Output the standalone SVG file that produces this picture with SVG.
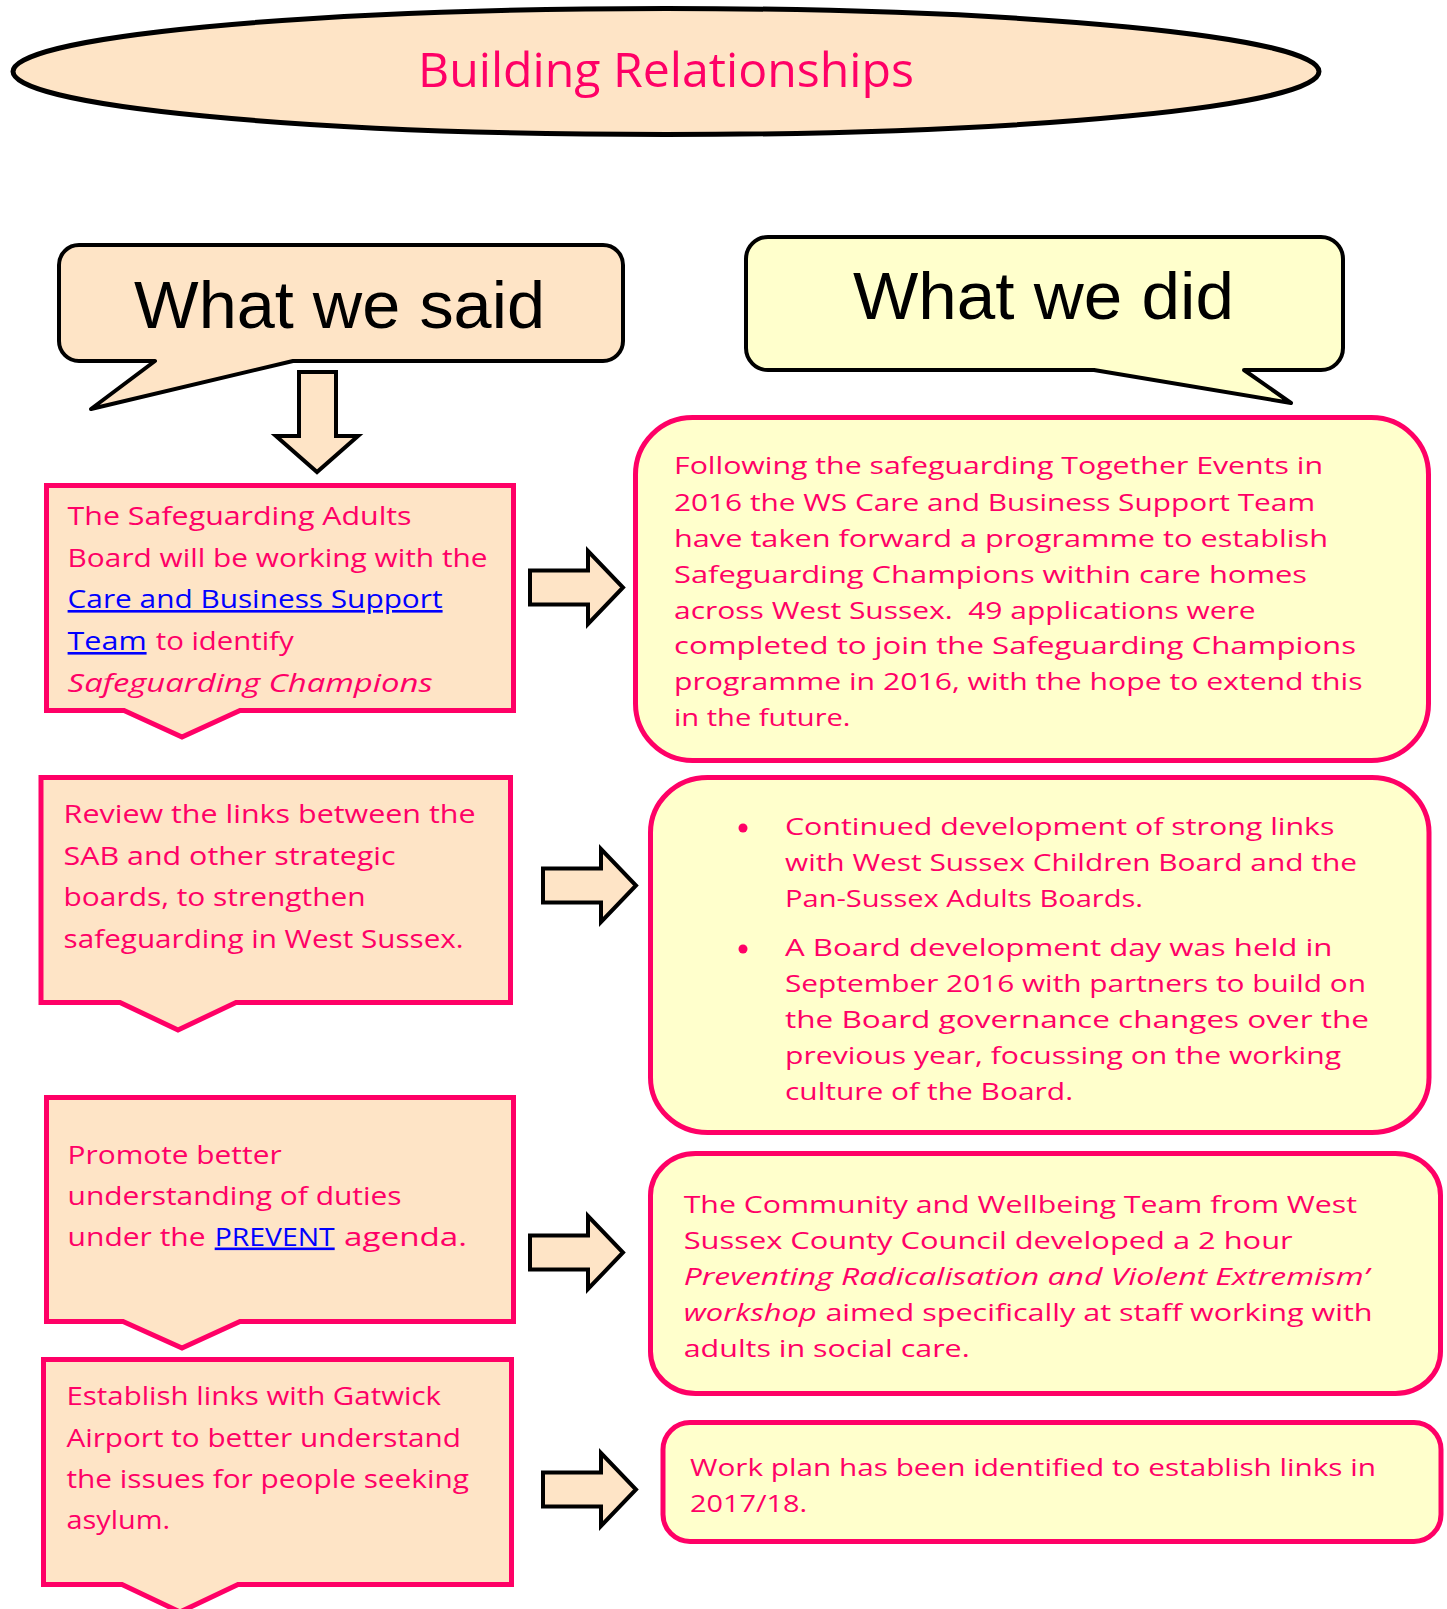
<svg xmlns="http://www.w3.org/2000/svg" width="1447" height="1609" viewBox="0 0 1447 1609">
<style>
.t{font-family:"Open Sans","Liberation Sans",sans-serif;fill:#FF0066}
.l{font-size:26px}
.r{font-size:24px}
.lk{fill:#0000FF;text-decoration:underline}
.it{font-style:italic}
.hd{font-family:"Liberation Sans",Arial,sans-serif;font-size:66px;fill:#000}
.box{fill:#FEE4C6;stroke:#FF0066;stroke-width:5;stroke-linejoin:miter}
.ybox{fill:#FFFFCC;stroke:#FF0066;stroke-width:5}
.call{stroke:#000;stroke-width:4;stroke-linejoin:round}
.arrow{fill:#FEE4C6;stroke:#000;stroke-width:4;stroke-linejoin:miter}
</style>
<defs>
<path id="rarrow" d="M2,21.5 H60 V2 L95,38.5 L60,75 V55.5 H2 Z"/>
</defs>
<rect width="1447" height="1609" fill="#fff"/>

<g id="title">
<ellipse cx="666" cy="71.5" rx="653" ry="63" fill="#FEE4C6" stroke="#000" stroke-width="5"/>
<text class="t" x="418" y="87" font-size="48" textLength="496" lengthAdjust="spacingAndGlyphs">Building Relationships</text>
</g>

<g id="what-we-said">
<path class="call" fill="#FEE4C6" d="M79,245 H603 A20,20 0 0 1 623,265 V341 A20,20 0 0 1 603,361 H293 L91,409 L155,361 H79 A20,20 0 0 1 59,341 V265 A20,20 0 0 1 79,245 Z"/>
<text class="hd" x="134" y="328" textLength="411" lengthAdjust="spacingAndGlyphs">What we said</text>
</g>

<g id="what-we-did">
<path class="call" fill="#FFFFCC" d="M768,237 H1321 A22,22 0 0 1 1343,259 V348 A22,22 0 0 1 1321,370 H1244 L1291,403 L1094,370 H768 A22,22 0 0 1 746,348 V259 A22,22 0 0 1 768,237 Z"/>
<text class="hd" x="853" y="319" textLength="381" lengthAdjust="spacingAndGlyphs">What we did</text>
</g>

<g id="said-1">
<path class="box" d="M46.5,485.5 H513.5 V710.5 H240 L182,737 L124,710.5 H46.5 Z"/>
<text class="t l" x="67.6" y="525" textLength="344" lengthAdjust="spacingAndGlyphs">The Safeguarding Adults</text>
<text class="t l" x="67.6" y="567" textLength="420" lengthAdjust="spacingAndGlyphs">Board will be working with the</text>
<text class="t l lk" x="67.6" y="608" textLength="375" lengthAdjust="spacingAndGlyphs">Care and Business Support</text>
<text class="t l lk" x="67.6" y="650" textLength="79" lengthAdjust="spacingAndGlyphs">Team</text>
<text class="t l" x="155.7" y="650" textLength="138" lengthAdjust="spacingAndGlyphs">to identify</text>
<text class="t l it" x="67.6" y="692" textLength="365" lengthAdjust="spacingAndGlyphs">Safeguarding Champions</text>
</g>

<g id="said-2">
<path class="box" d="M41,777.5 H510.5 V1002.5 H236 L178,1030 L120,1002.5 H41 Z"/>
<text class="t l" x="63.6" y="823" textLength="412" lengthAdjust="spacingAndGlyphs">Review the links between the</text>
<text class="t l" x="63.6" y="864.5" textLength="332" lengthAdjust="spacingAndGlyphs">SAB and other strategic</text>
<text class="t l" x="63.6" y="906" textLength="302" lengthAdjust="spacingAndGlyphs">boards, to strengthen</text>
<text class="t l" x="63.6" y="947.5" textLength="400" lengthAdjust="spacingAndGlyphs">safeguarding in West Sussex.</text>
</g>

<g id="said-3">
<path class="box" d="M46.5,1097.5 H513.5 V1321.5 H240 L182,1348 L123,1321.5 H46.5 Z"/>
<text class="t l" x="67.6" y="1163.5" textLength="214" lengthAdjust="spacingAndGlyphs">Promote better</text>
<text class="t l" x="67.6" y="1204.5" textLength="334" lengthAdjust="spacingAndGlyphs">understanding of duties</text>
<text class="t l" x="67.6" y="1245.5" textLength="138" lengthAdjust="spacingAndGlyphs">under the</text>
<text class="t l lk" x="214.7" y="1245.5" textLength="120" lengthAdjust="spacingAndGlyphs">PREVENT</text>
<text class="t l" x="344" y="1245.5" textLength="123" lengthAdjust="spacingAndGlyphs">agenda.</text>
</g>

<g id="said-4">
<path class="box" d="M43.5,1359.5 H511.5 V1584.5 H238 L180,1612 L122,1584.5 H43.5 Z"/>
<text class="t l" x="66.4" y="1405" textLength="374.6" lengthAdjust="spacingAndGlyphs">Establish links with Gatwick</text>
<text class="t l" x="66.4" y="1447" textLength="394.6" lengthAdjust="spacingAndGlyphs">Airport to better understand</text>
<text class="t l" x="66.4" y="1488" textLength="402.6" lengthAdjust="spacingAndGlyphs">the issues for people seeking</text>
<text class="t l" x="66.4" y="1529" textLength="103.6" lengthAdjust="spacingAndGlyphs">asylum.</text>
</g>

<g id="did-1">
<rect class="ybox" x="635.5" y="417.5" width="793" height="343" rx="57" ry="57"/>
<text class="t r" x="674" y="474" textLength="649" lengthAdjust="spacingAndGlyphs">Following the safeguarding Together Events in</text>
<text class="t r" x="674" y="510.7" textLength="641" lengthAdjust="spacingAndGlyphs">2016 the WS Care and Business Support Team</text>
<text class="t r" x="674" y="546.7" textLength="654" lengthAdjust="spacingAndGlyphs">have taken forward a programme to establish</text>
<text class="t r" x="674" y="582.7" textLength="633" lengthAdjust="spacingAndGlyphs">Safeguarding Champions within care homes</text>
<text class="t r" x="674" y="618.5" textLength="581.6" lengthAdjust="spacingAndGlyphs" xml:space="preserve">across West Sussex.  49 applications were</text>
<text class="t r" x="674" y="654.3" textLength="682" lengthAdjust="spacingAndGlyphs">completed to join the Safeguarding Champions</text>
<text class="t r" x="674" y="690" textLength="688.6" lengthAdjust="spacingAndGlyphs">programme in 2016, with the hope to extend this</text>
<text class="t r" x="674" y="726" textLength="176.5" lengthAdjust="spacingAndGlyphs">in the future.</text>
</g>

<g id="did-2">
<rect class="ybox" x="650.5" y="777.5" width="778.5" height="355" rx="57" ry="55"/>
<circle cx="743" cy="828" r="4.5" fill="#FF0066"/>
<circle cx="743" cy="949" r="4.5" fill="#FF0066"/>
<text class="t r" x="785" y="835" textLength="549.5" lengthAdjust="spacingAndGlyphs">Continued development of strong links</text>
<text class="t r" x="785" y="871" textLength="572" lengthAdjust="spacingAndGlyphs">with West Sussex Children Board and the</text>
<text class="t r" x="785" y="907" textLength="358" lengthAdjust="spacingAndGlyphs">Pan-Sussex Adults Boards.</text>
<text class="t r" x="785" y="956" textLength="547.5" lengthAdjust="spacingAndGlyphs">A Board development day was held in</text>
<text class="t r" x="785" y="992" textLength="581" lengthAdjust="spacingAndGlyphs">September 2016 with partners to build on</text>
<text class="t r" x="785" y="1028" textLength="584" lengthAdjust="spacingAndGlyphs">the Board governance changes over the</text>
<text class="t r" x="785" y="1064" textLength="556" lengthAdjust="spacingAndGlyphs">previous year, focussing on the working</text>
<text class="t r" x="785" y="1100" textLength="288" lengthAdjust="spacingAndGlyphs">culture of the Board.</text>
</g>

<g id="did-3">
<rect class="ybox" x="650.5" y="1153.5" width="790" height="240" rx="45" ry="42"/>
<text class="t r" x="683.7" y="1212.7" textLength="673.3" lengthAdjust="spacingAndGlyphs">The Community and Wellbeing Team from West</text>
<text class="t r" x="683.7" y="1249" textLength="609" lengthAdjust="spacingAndGlyphs">Sussex County Council developed a 2 hour</text>
<text class="t r it" x="683.7" y="1285" textLength="685.3" lengthAdjust="spacingAndGlyphs">Preventing Radicalisation and Violent Extremism’</text>
<text class="t r it" x="683.7" y="1321" textLength="133" lengthAdjust="spacingAndGlyphs">workshop</text>
<text class="t r" x="825.4" y="1321" textLength="547.2" lengthAdjust="spacingAndGlyphs">aimed specifically at staff working with</text>
<text class="t r" x="683.7" y="1356.7" textLength="286" lengthAdjust="spacingAndGlyphs">adults in social care.</text>
</g>

<g id="did-4">
<rect class="ybox" x="663" y="1422.5" width="778" height="119" rx="27" ry="27"/>
<text class="t r" x="690" y="1476" textLength="686" lengthAdjust="spacingAndGlyphs">Work plan has been identified to establish links in</text>
<text class="t r" x="690" y="1511.7" textLength="117" lengthAdjust="spacingAndGlyphs">2017/18.</text>
</g>

<g id="connectors">
<path class="arrow" d="M299,372 H336 V436 H358 L317,472 L276,436 H299 Z"/>
<use href="#rarrow" class="arrow" transform="translate(528,549)"/>
<use href="#rarrow" class="arrow" transform="translate(541,847)"/>
<use href="#rarrow" class="arrow" transform="translate(528,1214)"/>
<use href="#rarrow" class="arrow" transform="translate(541,1451)"/>
</g>
</svg>
